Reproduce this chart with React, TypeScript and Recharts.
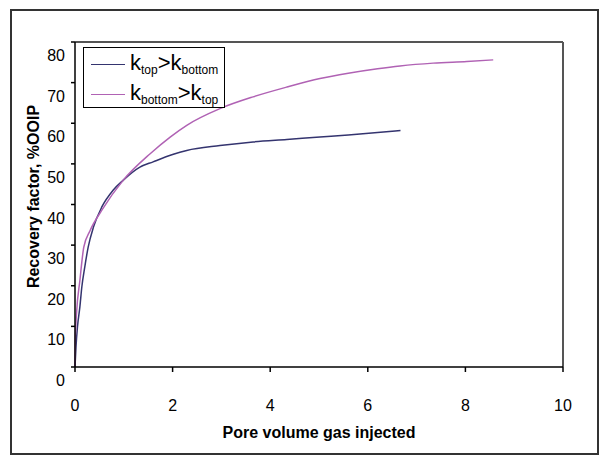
import { LineChart, Line, XAxis, YAxis, Legend, ReferenceLine, Label } from "recharts";

// k_top > k_bottom
const pvTopHigh = [0, 0.02, 0.05, 0.1, 0.14, 0.2, 0.27, 0.38, 0.55, 0.78, 0.99, 1.33, 1.6, 2.0, 2.29, 2.97, 3.65, 4.34, 5.02, 5.6, 6.2, 6.67];
const rfTopHigh = [0, 4.9, 9.8, 14.8, 19.7, 24.6, 29.5, 34.5, 39.4, 43.5, 46, 49.2, 50.5, 52.3, 53.3, 54.5, 55.4, 56, 56.6, 57.1, 57.7, 58.2];

// k_bottom > k_top
const pvBottomHigh = [0, 0.005, 0.03, 0.1, 0.18, 0.31, 0.55, 0.99, 1.54, 1.95, 2.29, 2.97, 3.65, 4.34, 5.02, 5.6, 6.2, 6.66, 7.34, 8.03, 8.57];
const rfBottomHigh = [0, 6.6, 13, 21.3, 29.5, 33.6, 38.6, 46, 52.5, 56.6, 59.5, 63.6, 66.5, 68.9, 71, 72.3, 73.4, 74.1, 74.8, 75.2, 75.6];

const xTicks = [0, 2, 4, 6, 8, 10];
const yTicks = [0, 10, 20, 30, 40, 50, 60, 70, 80];

const topHighData = pvTopHigh.map((pv, i) => ({ pv, rf: rfTopHigh[i] }));
const bottomHighData = pvBottomHigh.map((pv, i) => ({ pv, rf: rfBottomHigh[i] }));

const FONT = "'Liberation Sans', Arial, sans-serif";
const NAVY = "#34346F";
const MAGENTA = "#B062B4";

const YTick = ({ x, y, payload }: any) => (
  <text x={x} y={y + 13.5} textAnchor="end" dominantBaseline="central" fontSize={16} fontFamily={FONT} fill="#000">
    {payload.value}
  </text>
);

const XTick = ({ x, y, payload }: any) => (
  <text x={x} y={y + 31} textAnchor="middle" dominantBaseline="central" fontSize={16} fontFamily={FONT} fill="#000">
    {payload.value}
  </text>
);

const Sub = ({ children }: any) => (
  <span style={{ fontSize: 12, position: "relative", top: 4 }}>{children}</span>
);

const legendRow = (color: string, label: any) => (
  <div style={{ display: "flex", alignItems: "center", height: 30 }}>
    <div style={{ width: 34, marginLeft: 7, marginRight: 5, borderTop: `1.5px solid ${color}` }} />
    <div style={{ fontSize: 22, lineHeight: "22px", whiteSpace: "nowrap" }}>{label}</div>
  </div>
);

const LegendBox = () => (
  <div
    style={{
      width: 142,
      height: 61,
      boxSizing: "border-box",
      border: "1px solid #000",
      background: "#fff",
      fontFamily: FONT,
      paddingTop: 1,
    }}
  >
    {legendRow(NAVY, <>k<Sub>top</Sub>&gt;k<Sub>bottom</Sub></>)}
    {legendRow(MAGENTA, <>k<Sub>bottom</Sub>&gt;k<Sub>top</Sub></>)}
  </div>
);

export default function App() {
  return (
    <div style={{ position: "absolute", left: 0, top: 0, width: 601, height: 455, background: "#fff" }}>
      <div
        style={{
          position: "absolute",
          left: 10,
          top: 9,
          width: 589,
          height: 446,
          boxSizing: "border-box",
          border: "2px solid #333",
        }}
      />
      <div style={{ position: "absolute", left: 0, top: 0 }}>
        <LineChart width={601} height={455} margin={{ top: 42, right: 38, bottom: 38, left: 35 }}>
          <XAxis
            type="number"
            dataKey="pv"
            domain={[0, 10]}
            ticks={xTicks}
            height={50}
            tickSize={5}
            tickMargin={2}
            tick={<XTick />}
            axisLine={{ stroke: "#000", strokeWidth: 1.5 }}
            tickLine={{ stroke: "#000", strokeWidth: 1.5 }}
          >
            <Label
              content={({ viewBox }: any) => (
                <text
                  x={viewBox.x + viewBox.width / 2}
                  y={viewBox.y + 65}
                  textAnchor="middle"
                  dominantBaseline="central"
                  fontSize={16}
                  fontWeight="bold"
                  fontFamily={FONT}
                  fill="#000"
                >
                  Pore volume gas injected
                </text>
              )}
            />
          </XAxis>
          <YAxis
            type="number"
            domain={[0, 80]}
            ticks={yTicks}
            width={40}
            tickSize={4}
            tickMargin={6}
            tick={<YTick />}
            axisLine={{ stroke: "#000", strokeWidth: 1.5 }}
            tickLine={{ stroke: "#000", strokeWidth: 1.5 }}
          >
            <Label
              content={({ viewBox }: any) => {
                const cx = viewBox.x - 2;
                const cy = viewBox.y + viewBox.height / 2 - 8;
                return (
                  <text
                    x={cx}
                    y={cy}
                    transform={`rotate(-90 ${cx} ${cy})`}
                    textAnchor="middle"
                    dominantBaseline="central"
                    fontSize={16}
                    fontWeight="bold"
                    fontFamily={FONT}
                    fill="#000"
                  >
                    Recovery  factor, %OOIP
                  </text>
                );
              }}
            />
          </YAxis>
          <ReferenceLine y={80} stroke="#555" strokeWidth={2} />
          <ReferenceLine x={10} stroke="#555" strokeWidth={2} />
          <Legend
            layout="vertical"
            align="center"
            verticalAlign="middle"
            content={<LegendBox />}
            wrapperStyle={{ position: "absolute", left: 83, top: 47, width: 142, height: 61 }}
          />
          <Line
            data={topHighData}
            dataKey="rf"
            type="monotone"
            stroke={NAVY}
            strokeWidth={1.5}
            dot={false}
            isAnimationActive={false}
          />
          <Line
            data={bottomHighData}
            dataKey="rf"
            type="monotone"
            stroke={MAGENTA}
            strokeWidth={1.5}
            dot={false}
            isAnimationActive={false}
          />
        </LineChart>
      </div>
    </div>
  );
}
